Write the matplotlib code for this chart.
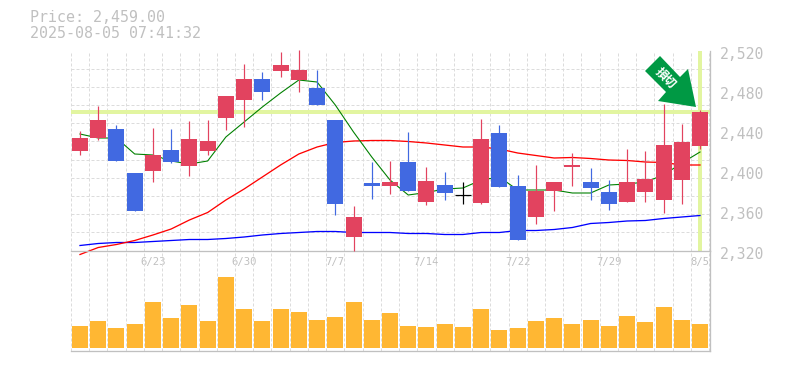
import matplotlib

matplotlib.use("Agg")
import matplotlib.pyplot as plt
from matplotlib.patches import Polygon
from matplotlib.transforms import Affine2D, ScaledTranslation

plt.rcParams["font.family"] = ["Noto Sans CJK JP", "DejaVu Sans"]

# --- Data -----------------------------------------------------------------------
opens = [2419.5, 2432.5, 2441.5, 2397.5, 2399.5, 2420.5, 2404.5, 2419.5, 2452.5, 2470.5,
         2491.5, 2499.5, 2490.5, 2482.5, 2450.5, 2333.5, 2387.5, 2384.5, 2408.5, 2368.5,
         2385.5, 2375.5, 2367.5, 2437.5, 2384.5, 2353.5, 2379.5, 2403.5, 2388.5, 2378.5,
         2368.5, 2378.5, 2370.5, 2390.5, 2424.5]
closes = [2432.5, 2450.5, 2409.5, 2359.5, 2415.5, 2408.5, 2431.5, 2429.5, 2474.5, 2491.5,
          2478.5, 2505.5, 2500.5, 2465.5, 2366.5, 2353.5, 2384.5, 2388.5, 2379.5, 2389.5,
          2377.5, 2375.5, 2431.5, 2383.5, 2330.5, 2379.5, 2388.5, 2405.5, 2382.5, 2366.5,
          2388.5, 2391.5, 2425.5, 2428.5, 2459.0]
highs = [2439.5, 2464.5, 2445.5, 2397.5, 2442.5, 2441.5, 2449.5, 2450.5, 2474.5, 2506.5,
         2498.5, 2518.5, 2520.5, 2500.5, 2450.5, 2364.5, 2408.5, 2409.5, 2438.5, 2403.5,
         2398.5, 2388.5, 2451.5, 2445.5, 2395.5, 2405.5, 2388.5, 2417.5, 2402.5, 2390.5,
         2421.5, 2419.5, 2466.5, 2446.5, 2460.5]
lows = [2415.5, 2430.5, 2409.5, 2359.5, 2388.5, 2407.5, 2394.5, 2415.5, 2440.5, 2443.5,
        2470.5, 2493.5, 2478.5, 2465.5, 2355.5, 2319.5, 2371.5, 2376.5, 2379.5, 2365.5,
        2370.5, 2366.5, 2366.5, 2383.5, 2330.5, 2346.5, 2359.5, 2384.5, 2370.5, 2360.5,
        2368.5, 2368.5, 2357.5, 2366.5, 2421.5]
ma_short = [2436.5, 2432.5, 2432.5, 2416.5, 2415.5, 2409.5, 2406.5, 2409.5, 2433.5, 2448.5,
            2463.5, 2477.5, 2490.5, 2488.5, 2465.5, 2438.5, 2413.5, 2390.5, 2375.5, 2378,
            2381.5, 2382.5, 2390.5, 2393.5, 2380.5, 2380.5, 2380.5, 2377.5, 2377.5, 2385.5,
            2386.5, 2388.5, 2395.5, 2407.5, 2418.5]
ma_mid = [2316, 2323, 2326, 2330, 2335.5, 2341.5, 2350.5, 2358, 2370.5, 2381.5,
          2393.5, 2405.5, 2416.5, 2423.5, 2428, 2429.5, 2430, 2430, 2429, 2427.5,
          2425.5, 2423.5, 2423.5, 2421.5, 2417.5, 2415, 2412.5, 2413, 2412, 2410.5,
          2410, 2408.5, 2408, 2405.5, 2405.5]
ma_long = [2325, 2327, 2328, 2328, 2329, 2330, 2331, 2331, 2332, 2333.5,
           2335.5, 2337, 2338, 2339, 2339, 2338, 2338, 2338, 2337, 2337,
           2336, 2336, 2338, 2338, 2340, 2340, 2341, 2343, 2347, 2348,
           2349.5, 2350, 2352, 2353.5, 2355]
volumes = [22, 27, 20, 24, 46, 30, 43, 27, 71, 39, 27, 39, 36, 28, 31, 46, 28, 35,
           22, 21, 24, 21, 39, 18, 20, 27, 30, 24, 28, 22, 32, 26, 41, 28, 24]
price_ticks = [2320, 2360, 2400, 2440, 2480, 2520]
date_idx = [4, 9, 14, 19, 24, 29, 34]
date_labels = ["6/23", "6/30", "7/7", "7/14", "7/22", "7/29", "8/5"]
last_price = 2459.0

UP = "#e2435f"
DOWN = "#4169e1"
DOJI = "#000000"
VOL = "#ffb733"
HILITE = "#e2f5a0"
AXIS = "#c0c0c0"
GRID = "#dcdcdc"
TEXT = "#c0c0c0"
W, H = 785, 370
px = 0.72  # one pixel in points at dpi 100

fig = plt.figure(figsize=(W / 100, H / 100), dpi=100, facecolor="white")
L, R = 70.5, 709.5
ax = fig.add_axes([L / W, 1 - 250.5 / H, (R - L) / W, 200 / H])
ax_v = fig.add_axes([L / W, 1 - 350.5 / H, (R - L) / W, 100 / H])
n = len(closes)
xs = list(range(n))
for a in (ax, ax_v):
    a.set_xlim(-0.52, n - 1 + 0.52)
    a.set_xticks([i - 0.5 for i in range(n + 1)], minor=True)
    a.grid(True, which="minor", axis="x", color=GRID, ls=(0, (3, 2)), lw=px)
    a.set_axisbelow(True)
    for s in ("top", "left"):
        a.spines[s].set_visible(False)
    for s in ("bottom", "right"):
        a.spines[s].set_color(AXIS)
        a.spines[s].set_linewidth(1.3 * px)
    a.tick_params(which="both", length=0)

# --- Price panel ----------------------------------------------------------------
ax.set_ylim(2320, 2520)
ax.set_yticks([2320 + k * 200 / 11 for k in range(12)], minor=True)
ax.grid(True, which="minor", axis="y", color=GRID, ls=(0, (3, 2)), lw=px)
ax.yaxis.tick_right()
ax.set_yticks(price_ticks, [f"{v:,}" for v in price_ticks],
              family="DejaVu Sans Mono", fontsize=10.6, color=TEXT)
ax.tick_params(axis="y", which="major", pad=7.5)
for lab in ax.get_yticklabels():
    lab.set_transform(lab.get_transform() + ScaledTranslation(0, -2.5 / 100, fig.dpi_scale_trans))
ax.set_xticks(date_idx, date_labels, family="DejaVu Sans Mono", fontsize=7.6, color=TEXT)
ax.tick_params(axis="x", which="major", pad=5)

ax.axhline(last_price, color=HILITE, lw=4 * px, zorder=1.5)
ax.axvline(n - 1, ymin=0, ymax=0.995, color=HILITE, lw=4 * px, zorder=1.5)

ax.plot(xs, ma_long, color="#0000ff", lw=1.3 * px, zorder=2, clip_on=False)
ax.plot(xs, ma_mid, color="#ff0000", lw=1.3 * px, zorder=2, clip_on=False)
ax.plot(xs, ma_short, color="#008000", lw=1.1 * px, zorder=2, clip_on=False)

for i in xs:
    o, c = opens[i], closes[i]
    col = UP if c > o else (DOWN if c < o else DOJI)
    ax.vlines(i, lows[i], highs[i], color=col, lw=1.2 * px, zorder=3, clip_on=False)
    if c == o:
        ax.hlines(o, i - 0.44, i + 0.44, color=col, lw=1.2 * px, zorder=3)
    else:
        ax.bar(i, abs(c - o), bottom=min(o, c), width=0.877, color=col, zorder=3)

# Arrow marker hanging over the last candle, offsets in pixels from its tip
tip = ax.transData.transform((n - 1, last_price))
to_tip = Affine2D().translate(tip[0] - 4, tip[1] + 4.5)
arrow_px = [(0, 0), (-8, 38), (-16, 30), (-36, 51), (-51, 36), (-30, 15), (-38, 6)]
ax.add_patch(Polygon(arrow_px, closed=True, facecolor="#009944", edgecolor="none",
                     transform=to_tip, zorder=4, clip_on=False))
fig.text(665.7 / W, 1 - 78.3 / H, "損切", color="white", fontsize=8.6, fontweight="bold",
         rotation=-45, ha="center", va="center", family=["Noto Sans CJK JP", "DejaVu Sans"],
         zorder=5)

# --- Volume panel ---------------------------------------------------------------
ax_v.set_ylim(-2.5, 97.5)
ax_v.set_yticks([])
ax_v.set_xticks([])
ax_v.patch.set_alpha(0)
ax_v.bar(xs, volumes, width=0.877, color=VOL, zorder=3)

# --- Header ---------------------------------------------------------------------
fig.text(30 / W, 1 - 18 / H, "Price: 2,459.00", color=TEXT, family="DejaVu Sans Mono",
         fontsize=10.8, va="center")
fig.text(30 / W, 1 - 33 / H, "2025-08-05 07:41:32", color=TEXT, family="DejaVu Sans Mono",
         fontsize=10.8, va="center")

fig.savefig("out.png", dpi=100)
